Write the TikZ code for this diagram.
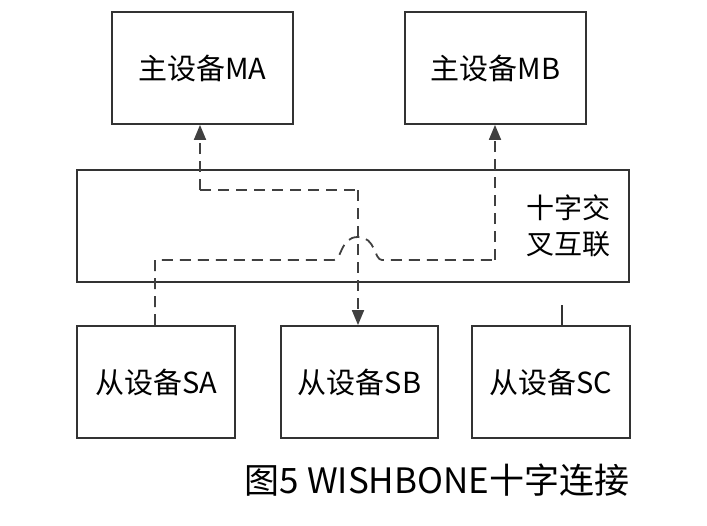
\documentclass[tikz,border=0pt]{standalone}
\usepackage{fontspec}
\setmainfont{Noto Sans}
\newfontfamily\cjk{Noto Sans CJK SC}
\usetikzlibrary{arrows.meta}
\begin{document}
\begin{tikzpicture}[x=1pt,y=-1pt,
  box/.style={draw=black!80,line width=1.8pt,inner sep=0pt,font=\cjk\fontsize{29}{32}\selectfont},
  dsh/.style={draw=black!75,line width=1.8pt,dash pattern=on 11pt off 7pt},
  tip/.style={-{Triangle[length=15pt,width=12pt]}}]
\useasboundingbox (0,0) rectangle (707,525);
\node[box,minimum width=181pt,minimum height=112pt] (ma) at (202.5,68) {主设备MA};
\node[box,minimum width=181pt,minimum height=112pt] (mb) at (495.5,68) {主设备MB};
\node[box,minimum width=552pt,minimum height=112pt] (xb) at (353,226) {};
\node[font=\cjk\fontsize{28}{36}\selectfont,align=center] (xl) at (568,226) {十字交\\叉互联};
\node[box,minimum width=158pt,minimum height=112pt] (sa) at (156,382) {从设备SA};
\node[box,minimum width=157pt,minimum height=112pt] (sb) at (359.5,382) {从设备SB};
\node[box,minimum width=158pt,minimum height=112pt] (sc) at (551,382) {从设备SC};
\node[font=\cjk\fontsize{35}{40}\selectfont] (cap) at (437,480) {图5 WISHBONE十字连接};
\coordinate (c1) at (200,190);
\coordinate (c2) at (358,190);
\coordinate (d1) at (155,260);
\coordinate (d2) at (334,260);
\coordinate (d3) at (382,260);
\coordinate (d4) at (495,260);
\coordinate (st) at (562,305);
\draw[dsh,tip] (c1) -- (c1 |- ma.south);
\draw[dsh] (c1) -- (c2);
\draw[dsh,tip] (c2) -- (c2 |- sb.north);
\draw[dsh] (d1 |- sa.north) -- (d1) -- (d2) .. controls (342,260) and (340,237) .. (358,237) .. controls (376,237) and (374,260) .. (d3) -- (d4);
\draw[dsh,tip] (d4) -- (d4 |- mb.south);
\draw[black!80,line width=1.8pt] (st) -- (st |- sc.north);
\end{tikzpicture}
\end{document}
